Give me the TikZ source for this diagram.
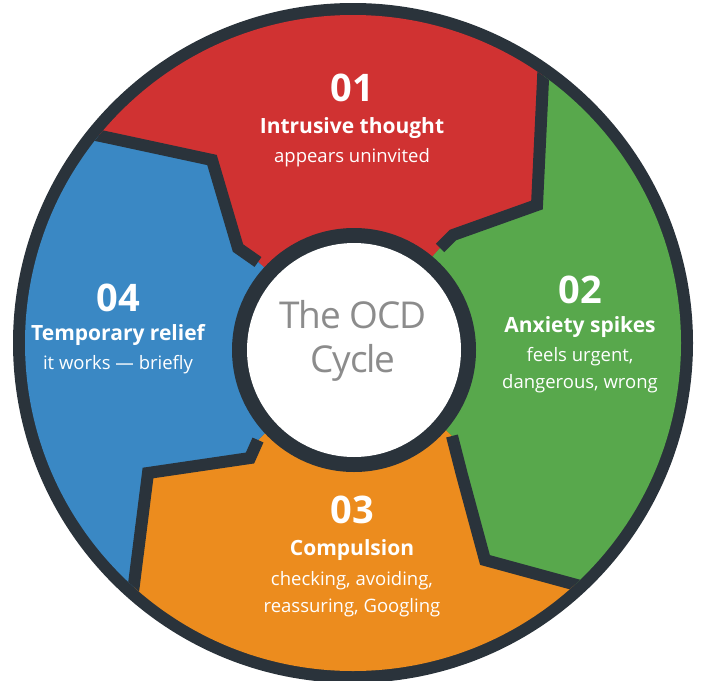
\documentclass[tikz,border=0pt]{standalone}
\usepackage{fontspec}
\setmainfont{Open Sans}
\begin{document}
\begin{tikzpicture}[x=1pt,y=-1pt,
  num/.style={text=white,font=\fontsize{38}{40}\selectfont\bfseries},
  ttl/.style={text=white,font=\fontsize{21}{23}\selectfont\bfseries},
  sub/.style={text=white,font=\fontsize{18.5}{27}\selectfont,align=center},
  bnd/.style={line width=12pt,draw=dk,line join=miter}]
\definecolor{dk}{HTML}{2A333B}
\definecolor{rd}{HTML}{D03232}
\definecolor{gn}{HTML}{58A84C}
\definecolor{og}{HTML}{EC8C1E}
\definecolor{bl}{HTML}{3A88C4}
\useasboundingbox (0,0) rectangle (704,680);
\coordinate (c) at (354,345);
\fill[dk] (353,343) circle (340);
\begin{scope}
\clip (353,343) circle (328);
\fill[rd] (c)--(258,262)--(238,248)--(212,160)--(110,138)--(0,115)--(0,-20)--(547,-20)--(543,80)--(537,205)--(453,235)--(440,248)--cycle;
\fill[gn] (c)--(440,248)--(453,235)--(537,205)--(543,80)--(547,-20)--(720,-20)--(720,625)--(595,590)--(485,560)--(462,475)--(452,436)--cycle;
\fill[og] (c)--(452,436)--(462,475)--(485,560)--(595,590)--(720,625)--(720,720)--(120,720)--(132,600)--(148,473)--(250,458)--(258,440)--cycle;
\fill[bl] (c)--(258,440)--(250,458)--(148,473)--(132,600)--(120,720)--(-20,720)--(-20,115)--(0,115)--(110,138)--(212,160)--(238,248)--(258,262)--cycle;
\draw[bnd] (258,262)--(238,248)--(212,160)--(110,138)--(0,115);
\draw[bnd] (440,248)--(453,235)--(537,205)--(543,80)--(547,-20);
\draw[bnd] (452,436)--(462,475)--(485,560)--(595,590)--(720,625);
\draw[bnd] (258,440)--(250,458)--(148,473)--(132,600)--(120,720);
\end{scope}
\fill[dk] (354,350) circle (122);
\fill[white] (354,350) circle (107);
\node[text=black!45,font=\fontsize{37}{44}\selectfont\addfontfeatures{LetterSpace=-3},align=center] (ctr) at (353,341) {The OCD\\Cycle};
\node[num] (n1) at (352,88) {01};
\node[ttl] (t1) at (352,128) {Intrusive thought};
\node[sub] (s1) at (352,158) {appears uninvited};
\node[num] (n2) at (580,290) {02};
\node[ttl] (t2) at (580,327) {Anxiety spikes};
\node[sub] (s2) at (580,370) {feels urgent,\\dangerous, wrong};
\node[num] (n3) at (352,510) {03};
\node[ttl] (t3) at (352,550) {Compulsion};
\node[sub] (s3) at (352,594) {checking, avoiding,\\reassuring, Googling};
\node[num] (n4) at (118,298) {04};
\node[ttl] (t4) at (118,335) {Temporary relief};
\node[sub] (s4) at (118,365) {it works — briefly};
\end{tikzpicture}
\end{document}
